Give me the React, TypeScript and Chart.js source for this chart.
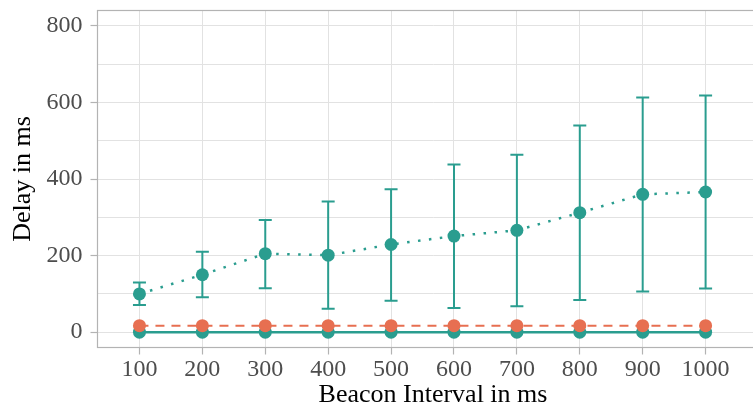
import React, { useEffect, useRef } from "react";
import { Chart, registerables } from "chart.js";

Chart.register(...registerables);

const intervals = [100, 200, 300, 400, 500, 600, 700, 800, 900, 1000];
const meanDelay = [100, 150, 205, 201, 229, 251, 266, 312, 360, 366];
const lowerDelay = [71, 91, 115, 61, 82, 63, 68, 84, 106, 114];
const upperDelay = [130, 210, 293, 341, 373, 438, 463, 540, 613, 618];
const secondDelay = [17, 17, 17, 17, 17, 17, 17, 17, 17, 17];
const baseDelay = [0, 0, 0, 0, 0, 0, 0, 0, 0, 0];
const yTickValues = [0, 100, 200, 300, 400, 500, 600, 700, 800];

const TEAL = "#2a9d8f";
const ORANGE = "#e76f51";
const GRID = "#e2e2e2";
const BORDER = "#b3b3b3";

const errorBarPlugin = {
  id: "errorBars",
  beforeDatasetsDraw(chart: any) {
    const { ctx, chartArea, scales } = chart;
    ctx.save();
    ctx.beginPath();
    ctx.rect(chartArea.left, chartArea.top, chartArea.right - chartArea.left, chartArea.bottom - chartArea.top);
    ctx.clip();
    ctx.strokeStyle = TEAL;
    ctx.lineWidth = 2;
    intervals.forEach((x, i) => {
      const px = scales.x.getPixelForValue(x);
      const lo = scales.y.getPixelForValue(lowerDelay[i]);
      const hi = scales.y.getPixelForValue(upperDelay[i]);
      ctx.beginPath();
      ctx.moveTo(px, lo);
      ctx.lineTo(px, hi);
      ctx.moveTo(px - 6.5, lo);
      ctx.lineTo(px + 6.5, lo);
      ctx.moveTo(px - 6.5, hi);
      ctx.lineTo(px + 6.5, hi);
      ctx.stroke();
    });
    ctx.restore();
  },
};

const borderPlugin = {
  id: "panelBorder",
  afterDatasetsDraw(chart: any) {
    const { ctx, chartArea } = chart;
    ctx.save();
    ctx.strokeStyle = BORDER;
    ctx.lineWidth = 1.2;
    ctx.strokeRect(chartArea.left, chartArea.top, chartArea.right - chartArea.left, chartArea.bottom - chartArea.top);
    ctx.restore();
  },
};

export default function App() {
  const ref = useRef<HTMLCanvasElement>(null);
  useEffect(() => {
    if (!ref.current) return;
    const chart = new Chart(ref.current, {
      type: "line",
      data: {
        datasets: [
          {
            data: intervals.map((x, i) => ({ x, y: meanDelay[i] })),
            borderColor: TEAL,
            backgroundColor: TEAL,
            borderWidth: 2.5,
            borderDash: [2.5, 8.5],
            pointRadius: 6.5,
            pointBorderWidth: 0,
            pointBackgroundColor: TEAL,
          },
          {
            data: intervals.map((x, i) => ({ x, y: secondDelay[i] })),
            borderColor: ORANGE,
            backgroundColor: ORANGE,
            borderWidth: 2,
            borderDash: [9, 7],
            pointRadius: 6.5,
            pointBorderWidth: 0,
            pointBackgroundColor: ORANGE,
          },
          {
            data: intervals.map((x, i) => ({ x, y: baseDelay[i] })),
            borderColor: TEAL,
            backgroundColor: TEAL,
            borderWidth: 2.5,
            pointRadius: 6.5,
            pointBorderWidth: 0,
            pointBackgroundColor: TEAL,
          },
        ],
      },
      options: {
        animation: false,
        responsive: false,
        maintainAspectRatio: false,
        layout: { padding: { top: 10.5, right: 0, left: 0, bottom: 0 } },
        plugins: { legend: { display: false }, tooltip: { enabled: false }, title: { display: false } },
        scales: {
          x: {
            type: "linear",
            min: 33.3,
            max: 1100,
            afterBuildTicks: (scale: any) => {
              scale.ticks = intervals.map((v) => ({ value: v }));
            },
            afterFit: (scale: any) => {
              scale.height = 61.5;
              scale.paddingLeft = 0;
              scale.paddingRight = 0;
            },
            grid: { color: GRID, lineWidth: 1, tickLength: 7, tickColor: BORDER, tickWidth: 1.2 },
            border: { display: false },
            ticks: {
              color: "#4d4d4d",
              font: { family: "Liberation Serif", size: 24 },
              padding: 1,
              maxRotation: 0,
              autoSkip: false,
              callback: (v: any) => String(v),
            },
            title: {
              display: true,
              text: "Beacon Interval in ms",
              color: "#000",
              font: { family: "Liberation Serif", size: 26 },
              padding: { top: 0, bottom: -2 },
            },
          },
          y: {
            type: "linear",
            min: -40,
            max: 840,
            afterBuildTicks: (scale: any) => {
              scale.ticks = yTickValues.map((v) => ({ value: v }));
            },
            afterFit: (scale: any) => {
              scale.width = 97.5;
              scale.paddingTop = 0;
              scale.paddingBottom = 0;
            },
            grid: {
              color: GRID,
              lineWidth: 1,
              tickLength: 7,
              tickWidth: 1.2,
              tickColor: (ctx: any) => (ctx.tick && ctx.tick.value % 200 === 0 ? BORDER : "rgba(0,0,0,0)"),
            },
            border: { display: false },
            ticks: {
              color: "#4d4d4d",
              font: { family: "Liberation Serif", size: 24 },
              padding: 8,
              autoSkip: false,
              callback: (v: any) => (Number(v) % 200 === 0 ? String(v) : ""),
            },
            title: {
              display: true,
              text: "Delay in ms",
              color: "#000",
              font: { family: "Liberation Serif", size: 26 },
              padding: { top: 8, bottom: 0 },
            },
          },
        },
      },
      plugins: [errorBarPlugin, borderPlugin],
    });
    return () => chart.destroy();
  }, []);
  return (
    <div style={{ position: "absolute", left: 0, top: 0, width: 753, height: 409, overflow: "hidden", background: "#fff" }}>
      <canvas ref={ref} width={775} height={409} style={{ display: "block", width: 775, height: 409 }} />
    </div>
  );
}
